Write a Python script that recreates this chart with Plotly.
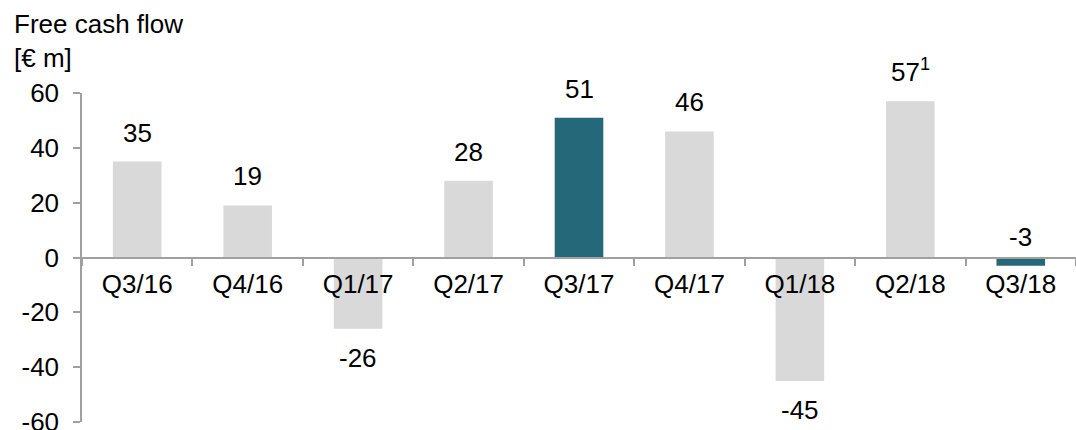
import plotly.graph_objects as go

quarters = ["Q3/16", "Q4/16", "Q1/17", "Q2/17", "Q3/17", "Q4/17", "Q1/18", "Q2/18", "Q3/18"]
free_cash_flow = [35, 19, -26, 28, 51, 46, -45, 57, -3]
value_labels = ["35", "19", "-26", "28", "51", "46", "-45", "57<sup>1</sup>", "-3"]
highlight = ["Q3/17", "Q3/18"]
y_ticks = [-60, -40, -20, 0, 20, 40, 60]
y_tick_labels = ["-60", "-40", "-20", "0", "20", "40", "60"]

GRAY = "#d9d9d9"
TEAL = "#24687a"
AXIS = "#a0a0a0"
FONT = "Liberation Sans, Arial, sans-serif"
FS = 26

colors = [TEAL if q in highlight else GRAY for q in quarters]

fig = go.Figure()
fig.add_trace(go.Bar(x=quarters, y=free_cash_flow, marker=dict(color=colors, line=dict(width=0)),
                     width=0.44, hoverinfo="x+y"))

for q, v, t in zip(quarters, free_cash_flow, value_labels):
    if v > -10:
        fig.add_annotation(x=q, y=v, text=t, showarrow=False, yanchor="bottom",
                           yshift=12, font=dict(size=FS, color="black", family=FONT))
    else:
        fig.add_annotation(x=q, y=v, text=t, showarrow=False, yanchor="top",
                           yshift=-12, font=dict(size=FS, color="black", family=FONT))

fig.add_annotation(text="Free cash flow<br>[€ m]", xref="paper", yref="paper", x=0, y=1,
                   xanchor="left", yanchor="bottom", align="left", xshift=-70, yshift=18,
                   showarrow=False, font=dict(size=FS, color="black", family=FONT))

fig.update_layout(
    width=1076, height=430,
    margin=dict(l=82, r=0, t=93, b=8, autoexpand=False),
    paper_bgcolor="white", plot_bgcolor="white",
    showlegend=False,
    font=dict(family=FONT, size=FS, color="black"),
    xaxis=dict(anchor="free", position=0.5, showline=True, linecolor=AXIS, linewidth=1.5,
               ticks="outside", tickson="boundaries", ticklen=8, tickcolor=AXIS, tickwidth=1.5,
               showgrid=False, zeroline=False, layer="above traces", automargin=False,
               ticklabelstandoff=4,
               tickfont=dict(size=FS, color="black", family=FONT)),
    yaxis=dict(range=[-60, 60], tickvals=y_ticks, ticktext=y_tick_labels,
               showline=True, linecolor=AXIS, linewidth=1.5,
               ticks="outside", ticklen=7, tickcolor=AXIS, tickwidth=1.5,
               showgrid=False, zeroline=False, ticklabelstandoff=9,
               ticklabeloverflow="allow", automargin=False,
               tickfont=dict(size=FS, color="black", family=FONT)),
)

fig.write_html("out.html")
